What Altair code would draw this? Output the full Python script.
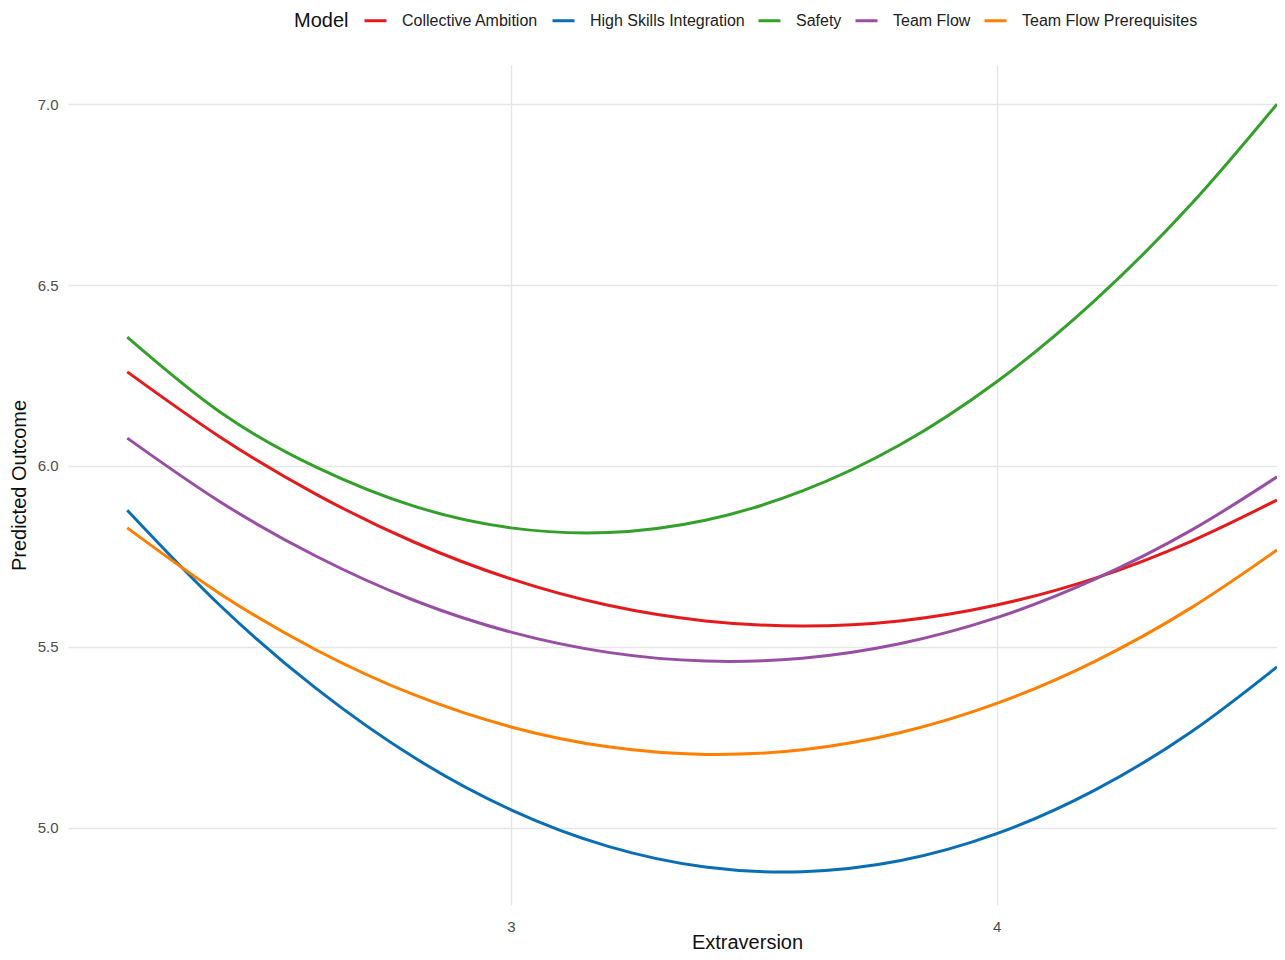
import altair as alt
import pandas as pd

# Extraversion values (x) at which the curves were read
extraversion = [2.21, 2.4, 2.6, 2.8, 3.0, 3.2, 3.4, 3.6, 3.8, 4.0, 4.2, 4.4, 4.577]

models = ["Collective Ambition", "High Skills Integration", "Safety", "Team Flow", "Team Flow Prerequisites"]
colors = ["#E41A1C", "#0A6EB4", "#33A02C", "#984EA3", "#FF7F00"]

collective_ambition = [6.260, 6.081, 5.921, 5.790, 5.688, 5.615, 5.572, 5.558, 5.572, 5.616, 5.689, 5.792, 5.906]
high_skills_integration = [5.878, 5.616, 5.384, 5.195, 5.050, 4.949, 4.892, 4.879, 4.909, 4.984, 5.103, 5.265, 5.445]
safety = [6.356, 6.150, 5.996, 5.889, 5.829, 5.816, 5.850, 5.931, 6.058, 6.233, 6.455, 6.723, 7.000]
team_flow = [6.077, 5.902, 5.750, 5.629, 5.541, 5.485, 5.461, 5.469, 5.509, 5.581, 5.686, 5.822, 5.970]
team_flow_prereq = [5.829, 5.648, 5.491, 5.368, 5.279, 5.224, 5.203, 5.216, 5.263, 5.344, 5.459, 5.608, 5.768]

series = [collective_ambition, high_skills_integration, safety, team_flow, team_flow_prereq]

rows = []
for name, vals in zip(models, series):
    for x, y in zip(extraversion, vals):
        rows.append({"Extraversion": x, "Predicted": y, "Model": name})
df = pd.DataFrame(rows)

FONT = "Liberation Sans"

chart = alt.Chart(df).mark_line(strokeWidth=3, interpolate="natural", clip=True).encode(
    x=alt.X("Extraversion:Q",
            scale=alt.Scale(domain=[2.088, 4.577], nice=False, zero=False),
            axis=alt.Axis(values=[3, 4], format="d", title="Extraversion",
                          labelPadding=14, titleX=679, titleY=27,
                          titleBaseline="top")),
    y=alt.Y("Predicted:Q",
            scale=alt.Scale(domain=[4.787, 7.108], nice=False, zero=False),
            axis=alt.Axis(values=[5.0, 5.5, 6.0, 6.5, 7.0], format=".1f",
                          title="Predicted Outcome", labelPadding=10, titlePadding=8)),
    color=alt.Color("Model:N",
                    scale=alt.Scale(domain=models, range=colors),
                    legend=alt.Legend(orient="none", legendX=226, legendY=-57,
                                      direction="horizontal", titleOrient="left",
                                      titleBaseline="line-top", titleLineHeight=6,
                                      symbolType="stroke", symbolSize=484,
                                      symbolStrokeWidth=3, labelOffset=14,
                                      columnPadding=7, titlePadding=14,
                                      labelLimit=400)),
    detail="Model:N",
).properties(
    width=1209,
    height=840,
    autosize=alt.AutoSizeParams(type="none"),
    padding={"left": 60, "top": 57, "right": 0, "bottom": 47},
).configure_view(
    stroke=None
).configure_axis(
    domain=False,
    ticks=False,
    grid=True,
    gridColor="#E6E6E6",
    gridWidth=1.4,
    labelFont=FONT,
    labelFontSize=15,
    labelColor="#4D4D4D",
    titleFont=FONT,
    titleFontSize=20,
    titleFontWeight="normal",
    titleColor="#111111",
).configure_legend(
    labelFont=FONT,
    labelFontSize=16,
    labelColor="#222222",
    titleFont=FONT,
    titleFontSize=20,
    titleFontWeight="normal",
    titleColor="#111111",
)

chart.save("out.html", embed_options={"renderer": "svg", "actions": False})
